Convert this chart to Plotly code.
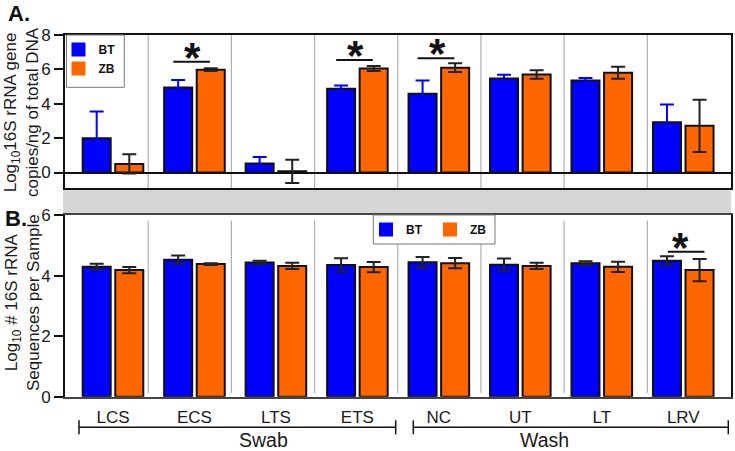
import plotly.graph_objects as go

W, H = 735, 451

# ---------------- data ----------------
categories = ["LCS", "ECS", "LTS", "ETS", "NC", "UT", "LT", "LRV"]
series_names = ["BT", "ZB"]

qpcr_bt = [2.0, 4.95, 0.52, 4.88, 4.58, 5.47, 5.35, 2.92]
qpcr_bt_err = [1.55, 0.43, 0.38, 0.18, 0.78, 0.22, 0.15, 1.03]
qpcr_zb = [0.5, 5.98, 0.07, 6.05, 6.1, 5.7, 5.8, 2.72]
qpcr_zb_err = [0.56, 0.08, 0.68, 0.15, 0.25, 0.25, 0.35, 1.52]

seq_bt = [4.29, 4.52, 4.43, 4.35, 4.44, 4.36, 4.41, 4.49]
seq_bt_err = [0.1, 0.14, 0.06, 0.22, 0.17, 0.2, 0.06, 0.15]
seq_zb = [4.18, 4.38, 4.32, 4.28, 4.41, 4.32, 4.29, 4.18]
seq_zb_err = [0.1, 0.03, 0.1, 0.17, 0.17, 0.1, 0.17, 0.37]

sig_qpcr = ["ECS", "ETS", "NC"]
sig_qpcr_y = [6.45, 6.55, 6.65]
sig_seq = ["LRV"]
sig_seq_y = [4.79]

sample_groups = ["Swab", "Wash"]
group_members = [["LCS", "ECS", "LTS", "ETS"], ["NC", "UT", "LT", "LRV"]]

yticks_a = [0, 2, 4, 6, 8]
yticks_b = [0, 2, 4, 6]

# ---------------- style ----------------
BLUE = "#0000FF"
ORANGE = "#FF6600"
FONT = "Liberation Sans, Arial, sans-serif"
TXT = "#1a1a1a"


def px(x):
    return x / W


def py(y):
    return 1 - y / H


XDOM = [px(65), px(730.5)]
YDOM_A = [py(188), py(35)]
YDOM_B = [py(396.7), py(215)]
XRANGE = [-0.589, 7.58]

fig = go.Figure()


def add_bars(vals, errs, name, color, ecolor, xa, ya, legend):
    fig.add_trace(go.Bar(
        x=categories, y=vals, name=name, xaxis=xa, yaxis=ya,
        marker=dict(color=color, line=dict(color="#111111", width=2)),
        error_y=dict(type="data", array=errs, visible=True, color=ecolor,
                     thickness=2, width=7),
        showlegend=False, offsetgroup=name,
    ))
    # legend marker (no outline, like the original)
    fig.add_trace(go.Scatter(
        x=[None], y=[None], mode="markers", name=name, xaxis=xa, yaxis=ya,
        marker=dict(symbol="square", size=14, color=color),
        legend=legend, showlegend=True,
    ))


add_bars(qpcr_bt, qpcr_bt_err, "BT", BLUE, BLUE, "x", "y", "legend")
add_bars(qpcr_zb, qpcr_zb_err, "ZB", ORANGE, "#222222", "x", "y", "legend")
add_bars(seq_bt, seq_bt_err, "BT", BLUE, "#222222", "x2", "y2", "legend2")
add_bars(seq_zb, seq_zb_err, "ZB", ORANGE, "#222222", "x2", "y2", "legend2")

axis_font = dict(family=FONT, size=17, color=TXT)
legend_font = dict(family=FONT, size=12, color="#111111", weight="bold")

fig.update_layout(
    width=W, height=H,
    template="none",
    paper_bgcolor="white", plot_bgcolor="white",
    margin=dict(l=0, r=0, t=0, b=0, autoexpand=False),
    barmode="group", bargap=0.2, bargroupgap=0.14,
    font=dict(family=FONT, color=TXT),
    xaxis=dict(domain=XDOM, anchor="y", range=XRANGE, type="category",
               categoryorder="array", categoryarray=categories,
               showticklabels=False, ticks="", showgrid=False,
               showline=True, linecolor="#111111", linewidth=2, mirror=True,
               automargin=False, zeroline=False),
    yaxis=dict(domain=YDOM_A, anchor="x", range=[-0.9, 8], tickvals=yticks_a,
               ticks="outside", ticklen=9, tickwidth=2, tickcolor="#111111",
               tickfont=axis_font, ticklabelstandoff=0, showgrid=False,
               showline=True, linecolor="#111111", linewidth=2, mirror=True,
               zeroline=True, zerolinecolor="#111111", zerolinewidth=2,
               automargin=False),
    xaxis2=dict(domain=XDOM, anchor="y2", range=XRANGE, type="category",
                categoryorder="array", categoryarray=categories,
                ticks="outside", ticklen=4, tickcolor="rgba(0,0,0,0)",
                tickfont=axis_font, showgrid=False,
                showline=True, linecolor="#444444", linewidth=2, mirror=True,
                automargin=False, zeroline=False),
    yaxis2=dict(domain=YDOM_B, anchor="x2", range=[0, 6], tickvals=yticks_b,
                ticks="outside", ticklen=9, tickwidth=2, tickcolor="#111111",
                tickfont=axis_font, ticklabelstandoff=0, showgrid=False,
                showline=True, linecolor="#111111", linewidth=2, mirror=True,
                zeroline=False, automargin=False),
    legend=dict(x=px(58.5), y=py(35), xanchor="left", yanchor="top",
                orientation="v", bgcolor="rgba(0,0,0,0)", borderwidth=0,
                font=legend_font, itemwidth=30, tracegroupgap=0),
    legend2=dict(x=px(366), y=py(215), xanchor="left", yanchor="top",
                 orientation="h", bgcolor="rgba(0,0,0,0)", borderwidth=0,
                 font=legend_font, itemwidth=30, entrywidth=19),
)

shapes = []
# gray band between the two panels
shapes.append(dict(type="rect", xref="paper", yref="paper",
                   x0=px(63), x1=px(731), y0=py(215), y1=py(189),
                   fillcolor="#D6D6D6", line=dict(width=0), layer="below"))
# legend frames
shapes.append(dict(type="rect", xref="paper", yref="paper",
                   x0=px(66.5), x1=px(124.3), y0=py(87.3), y1=py(35),
                   fillcolor="white", line=dict(color="#777777", width=1)))
shapes.append(dict(type="rect", xref="paper", yref="paper",
                   x0=px(373.3), x1=px(495), y0=py(244), y1=py(215),
                   fillcolor="white", line=dict(color="#777777", width=1)))
# category separators
for k in range(1, len(categories)):
    shapes.append(dict(type="line", xref="x domain", yref="y domain",
                       x0=k / len(categories), x1=k / len(categories), y0=0, y1=1,
                       line=dict(color="#B0B0B0", width=1.2), layer="below"))
    shapes.append(dict(type="line", xref="x2 domain", yref="y2 domain",
                       x0=k / len(categories), x1=k / len(categories), y0=0.02, y1=0.97,
                       line=dict(color="#B0B0B0", width=1.2), layer="below"))

annotations = []
star_font = dict(family=FONT, size=42, color="#111111", weight="bold")
# significance markers
for cat, yv in zip(sig_qpcr, sig_qpcr_y):
    i = categories.index(cat)
    shapes.append(dict(type="line", xref="x", yref="y", x0=i - 0.26, x1=i + 0.19,
                       y0=yv, y1=yv, line=dict(color="#111111", width=2)))
    annotations.append(dict(xref="x", yref="y", x=i - 0.02, y=yv, text="*",
                            showarrow=False, yanchor="bottom", yshift=-21,
                            font=star_font))
for cat, yv in zip(sig_seq, sig_seq_y):
    i = categories.index(cat)
    shapes.append(dict(type="line", xref="x2", yref="y2", x0=i - 0.19, x1=i + 0.26,
                       y0=yv, y1=yv, line=dict(color="#111111", width=2)))
    annotations.append(dict(xref="x2", yref="y2", x=i - 0.03, y=yv, text="*",
                            showarrow=False, yanchor="bottom", yshift=-21,
                            font=star_font))

# group brackets under the x axis
bracket_px = [(79, 395.7), (413.3, 728.3)]
for name, (x0, x1) in zip(sample_groups, bracket_px):
    yb = 427.3
    shapes.append(dict(type="line", xref="paper", yref="paper", x0=px(x0), x1=px(x1),
                       y0=py(yb), y1=py(yb), line=dict(color="#111111", width=1.5)))
    for xe in (x0, x1):
        shapes.append(dict(type="line", xref="paper", yref="paper", x0=px(xe), x1=px(xe),
                           y0=py(yb - 7), y1=py(yb + 7),
                           line=dict(color="#111111", width=1.5)))
    annotations.append(dict(xref="paper", yref="paper", x=px((x0 + x1) / 2), y=py(440),
                            text=name, showarrow=False, yanchor="middle",
                            font=dict(family=FONT, size=19.5, color=TXT)))

# y-axis titles
annotations.append(dict(xref="paper", yref="paper", x=px(22), y=py(112),
                        text="Log<sub>10</sub>16S rRNA gene<br>copies/ng of total DNA",
                        textangle=-90, showarrow=False, xanchor="center", yanchor="middle",
                        font=dict(family=FONT, size=17, color=TXT)))
annotations.append(dict(xref="paper", yref="paper", x=px(22), y=py(303),
                        text="Log<sub>10</sub> # 16S rRNA<br>Sequences per Sample",
                        textangle=-90, showarrow=False, xanchor="center", yanchor="middle",
                        font=dict(family=FONT, size=17, color=TXT)))
# panel letters
annotations.append(dict(xref="paper", yref="paper", x=px(6), y=py(14), text="A.",
                        showarrow=False, xanchor="left", yanchor="middle",
                        font=dict(family=FONT, size=22, color="#111111", weight="bold")))
annotations.append(dict(xref="paper", yref="paper", x=px(3), y=py(218), text="B.",
                        showarrow=False, xanchor="left", yanchor="middle",
                        font=dict(family=FONT, size=22, color="#111111", weight="bold")))

fig.update_layout(shapes=shapes, annotations=annotations)
fig.write_html("out.html",
               config={"displayModeBar": False},
               post_script="document.body.style.margin='0px';"
                           "document.body.style.overflow='hidden';")
